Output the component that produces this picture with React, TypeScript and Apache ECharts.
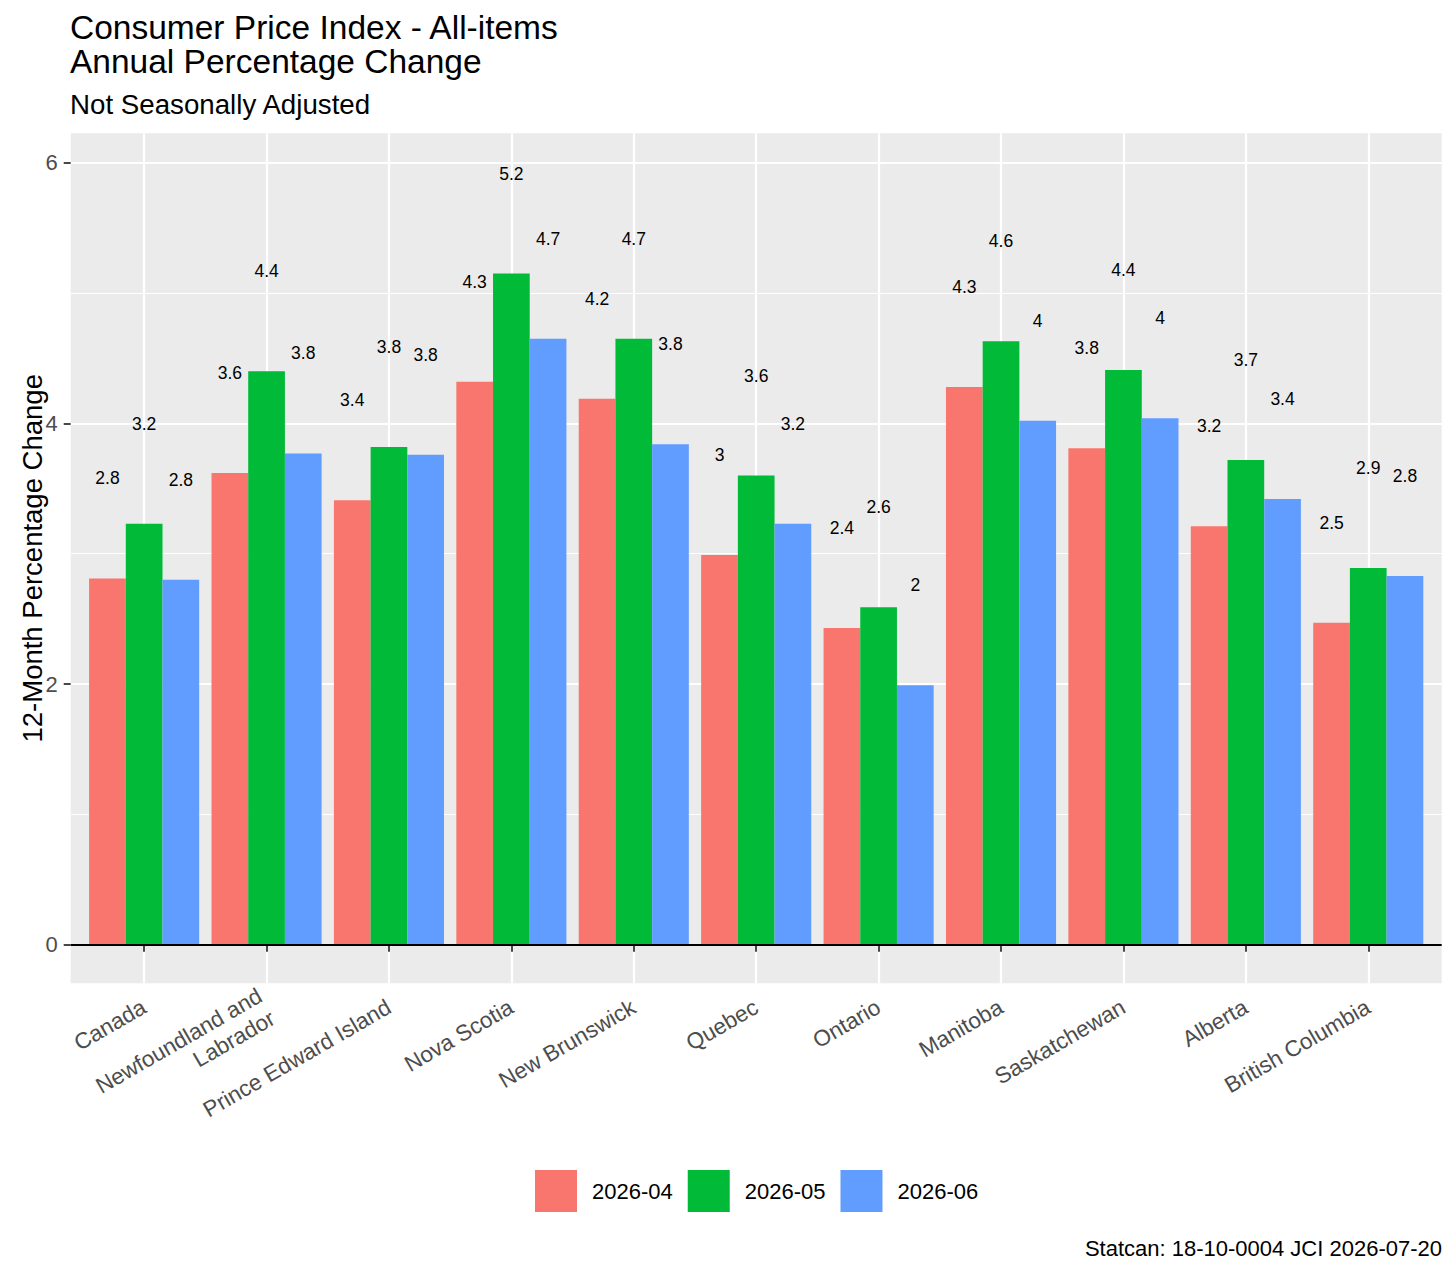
import * as echarts from "echarts";
import { useEffect, useRef } from "react";

const regions = [
  "Canada",
  "Newfoundland and\nLabrador",
  "Prince Edward Island",
  "Nova Scotia",
  "New Brunswick",
  "Quebec",
  "Ontario",
  "Manitoba",
  "Saskatchewan",
  "Alberta",
  "British Columbia",
];
const months = ["2026-04", "2026-05", "2026-06"];
const apr = [2.81, 3.62, 3.41, 4.32, 4.19, 2.99, 2.43, 4.28, 3.81, 3.21, 2.47];
const may = [3.23, 4.4, 3.82, 5.15, 4.65, 3.6, 2.59, 4.63, 4.41, 3.72, 2.89];
const jun = [2.8, 3.77, 3.76, 4.65, 3.84, 3.23, 1.99, 4.02, 4.04, 3.42, 2.83];
const colors = ["#F8766D", "#00BA38", "#619CFF"];
const majorTicks = [0, 2, 4, 6];
const minorTicks = [1, 3, 5];

const FONT = "Liberation Sans, Arial, Helvetica, sans-serif";

export default function App() {
  const chartRef = useRef(null);
  useEffect(() => {
    const chart = echarts.init(chartRef.current, null, { renderer: "svg" });
    chart.setOption(getChartOption());
    return () => {
      chart.dispose();
    };
  }, []);

  return (
    <div
      ref={chartRef}
      style={{ position: "fixed", left: 0, top: 0, width: 1456, height: 1274, background: "#fff" }}
    />
  );
}

function getChartOption() {
  const positions = regions.map((_, i) => i + 1);
  const seriesData = [apr, may, jun];

  const option = {
    animation: false,
    textStyle: { fontFamily: FONT },
    title: [
      {
        text: "Consumer Price Index - All-items\nAnnual Percentage Change",
        left: 70,
        top: 10,
        padding: 0,
        textStyle: { fontSize: 33.5, lineHeight: 34.5, fontWeight: "normal", color: "#000", fontFamily: FONT },
      },
      {
        text: "Not Seasonally Adjusted",
        left: 70,
        top: 91,
        padding: 0,
        textStyle: { fontSize: 27.7, lineHeight: 27.7, fontWeight: "normal", color: "#000", fontFamily: FONT },
      },
      {
        text: "Statcan: 18-10-0004 JCI 2026-07-20",
        right: 14,
        top: 1237,
        padding: 0,
        textStyle: { fontSize: 22, lineHeight: 22, fontWeight: "normal", color: "#000", fontFamily: FONT },
      },
    ],
    legend: {
      data: months,
      left: 535,
      top: 1170,
      padding: 0,
      itemWidth: 42,
      itemHeight: 42,
      itemGap: 15,
      icon: "rect",
      textStyle: { fontSize: 22, color: "#000", padding: [0, 0, 0, 10], fontFamily: FONT },
    },
    grid: {
      left: 70.7,
      right: 14.3,
      top: 133.3,
      bottom: 290.7,
      show: true,
      backgroundColor: "#EBEBEB",
      borderWidth: 0,
    },
    xAxis: {
      type: "value",
      min: 0.4,
      max: 11.6,
      axisLine: { show: false },
      axisTick: {
        customValues: positions,
        length: 7,
        lineStyle: { color: "#333333", width: 1.8 },
      },
      axisLabel: {
        customValues: positions,
        formatter: (v) => regions[Math.round(v) - 1] || "",
        rotate: 30,
        margin: 22,
        fontSize: 22.5,
        lineHeight: 26,
        color: "#4D4D4D",
        fontFamily: FONT,
      },
      splitLine: { show: true, lineStyle: { color: "#FFFFFF", width: 2.2 } },
    },
    yAxis: [
      {
        type: "value",
        min: -0.2965,
        max: 6.2265,
        name: "12-Month Percentage Change",
        nameLocation: "middle",
        nameGap: 24,
        nameMoveOverlap: false,
        nameTextStyle: { fontSize: 27.5, color: "#000", fontFamily: FONT },
        axisLine: { show: false },
        axisTick: {
          show: true,
          customValues: majorTicks,
          length: 7,
          lineStyle: { color: "#333333", width: 1.8 },
        },
        axisLabel: {
          customValues: majorTicks,
          margin: 13,
          fontSize: 22,
          color: "#4D4D4D",
          fontFamily: FONT,
        },
        splitLine: { show: true, lineStyle: { color: "#FFFFFF", width: 2.2 } },
      },
      {
        type: "value",
        min: -0.2965,
        max: 6.2265,
        position: "left",
        axisLine: { show: false },
        axisTick: { show: false, customValues: minorTicks },
        axisLabel: { show: false },
        splitLine: { show: true, lineStyle: { color: "#FFFFFF", width: 1.1 } },
      },
    ],
    series: months.map((m, k) => ({
      name: m,
      type: "bar",
      xAxisIndex: 0,
      yAxisIndex: 0,
      barWidth: 36.7,
      barGap: "0%",
      itemStyle: { color: colors[k] },
      data: seriesData[k].map((v, i) => [positions[i], v]),
      label: {
        show: true,
        position: "top",
        distance: 91,
        fontSize: 17.5,
        color: "#000",
        fontFamily: FONT,
        formatter: (p) => String(Math.round(p.value[1] * 10) / 10),
      },
      markLine:
        k === 0
          ? {
              silent: true,
              symbol: "none",
              label: { show: false },
              lineStyle: { color: "#000", width: 2, type: "solid" },
              data: [{ yAxis: 0 }],
            }
          : undefined,
    })),
  };

  return option;
}
